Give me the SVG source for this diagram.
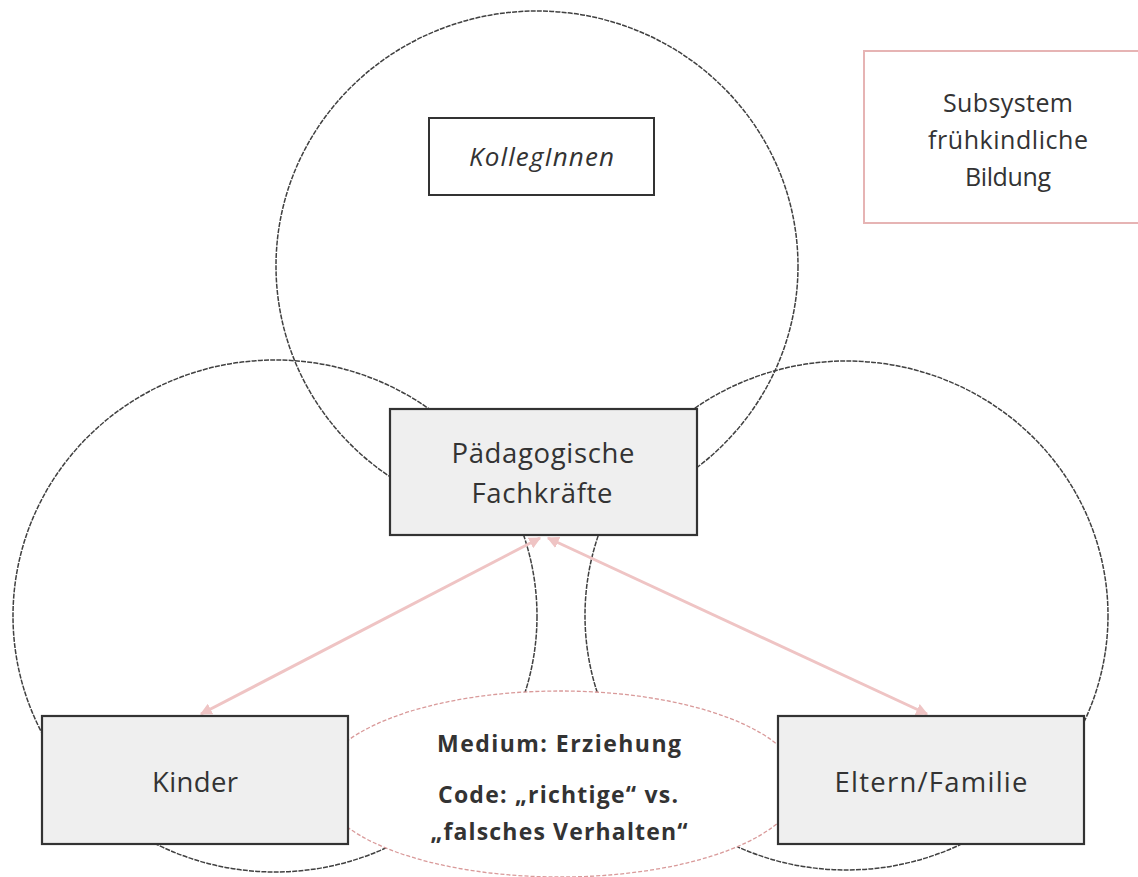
<svg xmlns="http://www.w3.org/2000/svg" width="1138" height="877" viewBox="0 0 1138 877">
<defs>
<style>
.circ{fill:none;stroke:#404040;stroke-width:1.5;stroke-dasharray:5 1.2}
.box{fill:#efefef;stroke:#333;stroke-width:2.2}
.wbox{fill:#fff;stroke:#333;stroke-width:2}
.sub{fill:#fff;stroke:#e6b4b4;stroke-width:2}
.oval{fill:#fff;stroke:#d99a9a;stroke-width:1.3;stroke-dasharray:4 2}
.arr{fill:none;stroke:#efc4c4;stroke-width:3;marker-start:url(#ah);marker-end:url(#ah)}
.t{font-family:"Open Sans","Noto Sans","Liberation Sans",sans-serif;fill:#333;text-anchor:middle}
.big{font-size:27.5px}
.mid{font-size:25px}
.bold{font-size:23px;font-weight:bold}
.it{font-size:26px;font-style:italic}
</style>
<marker id="ah" viewBox="0 0 10 10" refX="9" refY="5" markerWidth="4" markerHeight="4" orient="auto-start-reverse" markerUnits="strokeWidth">
<path d="M0,0 L10,5 L0,10 z" fill="#efc4c4"/>
</marker>
</defs>
<rect width="1138" height="877" fill="#fff"/>
<g id="circles">
<ellipse id="circle-top" class="circ" cx="537" cy="266" rx="261" ry="255"/>
<ellipse id="circle-left" class="circ" cx="275" cy="616" rx="262" ry="256"/>
<ellipse id="circle-right" class="circ" cx="846.5" cy="615.5" rx="261.5" ry="254.5"/>
</g>
<g id="medium">
<ellipse class="oval" cx="560" cy="784" rx="240" ry="93"/>
<text class="t bold" x="559" y="752" textLength="244">Medium: Erziehung</text>
<text class="t bold" x="558" y="803" textLength="240">Code: „richtige“ vs.</text>
<text class="t bold" x="559" y="840" textLength="257">„falsches Verhalten“</text>
</g>
<g id="connectors">
<line class="arr" x1="540" y1="538" x2="201" y2="714"/>
<line class="arr" x1="548" y1="538" x2="927" y2="714"/>
</g>
<g id="kollegen">
<rect class="wbox" x="429" y="118" width="225" height="77"/>
<text class="t it" x="541.5" y="166" textLength="145">KollegInnen</text>
</g>
<g id="subsystem">
<rect class="sub" x="864" y="51" width="290" height="172"/>
<text class="t mid" x="1008" y="112" textLength="130">Subsystem</text>
<text class="t mid" x="1008" y="149" textLength="160">frühkindliche</text>
<text class="t mid" x="1008" y="186" textLength="86">Bildung</text>
</g>
<g id="fachkraefte">
<rect class="box" x="390" y="409" width="307" height="126"/>
<text class="t big" x="543" y="463" textLength="183">Pädagogische</text>
<text class="t big" x="542" y="503" textLength="141">Fachkräfte</text>
</g>
<g id="kinder">
<rect class="box" x="42" y="716" width="306" height="128"/>
<text class="t big" x="195" y="792" textLength="86">Kinder</text>
</g>
<g id="eltern">
<rect class="box" x="778" y="716" width="306" height="128"/>
<text class="t big" x="931" y="792" textLength="193">Eltern/Familie</text>
</g>
</svg>
